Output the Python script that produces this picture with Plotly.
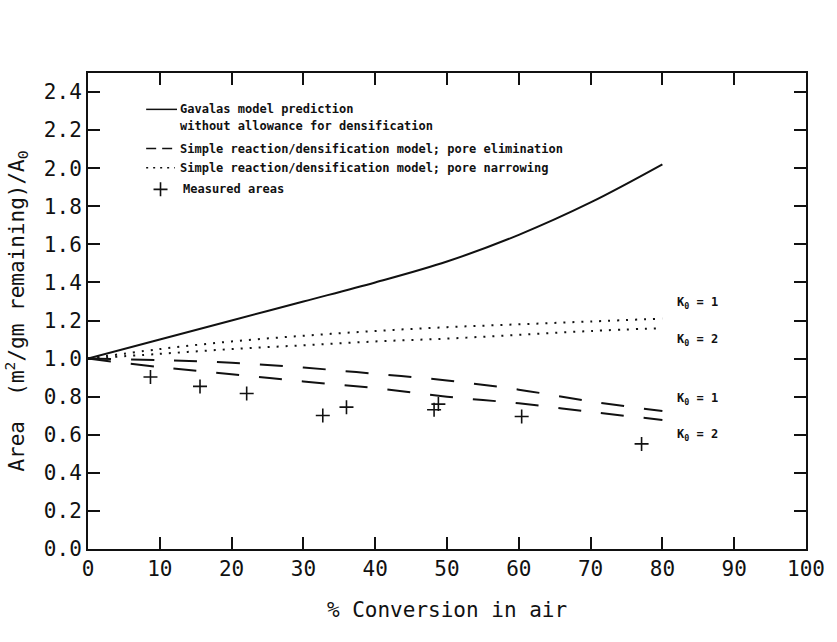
import plotly.graph_objects as go

# ---- data ----
conv = [0, 10, 20, 30, 40, 50, 60, 70, 80]
gavalas = [1.00, 1.10, 1.20, 1.30, 1.40, 1.51, 1.65, 1.82, 2.02]
narrow_k1 = [1.00, 1.05, 1.09, 1.12, 1.145, 1.165, 1.18, 1.195, 1.21]
narrow_k2 = [1.00, 1.025, 1.05, 1.07, 1.09, 1.105, 1.125, 1.145, 1.16]
elim_k1 = [1.00, 0.992, 0.978, 0.953, 0.92, 0.885, 0.837, 0.775, 0.725]
elim_k2 = [1.00, 0.955, 0.918, 0.88, 0.845, 0.80, 0.765, 0.72, 0.678]

meas_x = [8.7, 15.6, 22.1, 32.7, 36.0, 48.2, 48.8, 60.4, 77.1]
meas_y = [0.903, 0.854, 0.817, 0.701, 0.745, 0.731, 0.761, 0.696, 0.552]

x_ticks = [0, 10, 20, 30, 40, 50, 60, 70, 80, 90, 100]
y_ticks = [0.0, 0.2, 0.4, 0.6, 0.8, 1.0, 1.2, 1.4, 1.6, 1.8, 2.0, 2.2, 2.4]

legend_labels = [
    "Gavalas model prediction",
    "without allowance for densification",
    "Simple reaction/densification model; pore elimination",
    "Simple reaction/densification model; pore narrowing",
    "Measured areas",
]
k_labels = ["K<sub>0</sub> = 1", "K<sub>0</sub> = 2", "K<sub>0</sub> = 1", "K<sub>0</sub> = 2"]
k_label_y = [1.29, 1.10, 0.79, 0.60]

BLACK = "#111111"
MONO = "DejaVu Sans Mono"

fig = go.Figure()
fig.add_trace(go.Scatter(x=conv, y=gavalas, mode="lines",
                         line=dict(color=BLACK, width=2, shape="spline")))
for ys in (narrow_k1, narrow_k2):
    fig.add_trace(go.Scatter(x=conv, y=ys, mode="lines",
                             line=dict(color=BLACK, width=2, dash="2px,7px", shape="spline")))
for ys in (elim_k1, elim_k2):
    fig.add_trace(go.Scatter(x=conv, y=ys, mode="lines",
                             line=dict(color=BLACK, width=2, dash="23px,20px", shape="spline")))
fig.add_trace(go.Scatter(x=meas_x, y=meas_y, mode="markers",
                         marker=dict(symbol="cross-thin", size=10,
                                     line=dict(color=BLACK, width=1.6))))

# ---- legend (drawn as in the original figure) ----
leg_x0, leg_x1, leg_tx = 8.1, 12.4, 12.5
fig.add_shape(type="line", x0=leg_x0, x1=leg_x1, y0=2.309, y1=2.309,
              line=dict(color=BLACK, width=1.5))
fig.add_shape(type="line", x0=leg_x0, x1=leg_x1, y0=2.103, y1=2.103,
              line=dict(color=BLACK, width=1.5, dash="10px,6px"))
fig.add_shape(type="line", x0=leg_x0, x1=leg_x1 - 0.3, y0=2.003, y1=2.003,
              line=dict(color=BLACK, width=1.5, dash="2px,5px"))
fig.add_trace(go.Scatter(x=[10.1], y=[1.889], mode="markers",
                         marker=dict(symbol="cross-thin", size=10,
                                     line=dict(color=BLACK, width=1.6))))
for lab, yy in zip(legend_labels, [2.309, 2.222, 2.103, 2.003, 1.889]):
    fig.add_annotation(x=leg_tx if lab != "Measured areas" else 13.0, y=yy,
                       text="<b>" + lab + "</b>", showarrow=False,
                       xanchor="left", yanchor="middle",
                       font=dict(family=MONO, size=12, color=BLACK))
for lab, yy in zip(k_labels, k_label_y):
    fig.add_annotation(x=81.8, y=yy, text="<b>" + lab + "</b>", showarrow=False,
                       xanchor="left", yanchor="middle",
                       font=dict(family=MONO, size=12, color=BLACK))

axis_common = dict(showline=True, linecolor=BLACK, linewidth=2, mirror="ticks",
                   ticks="inside", ticklen=12, tickwidth=2, tickcolor=BLACK,
                   showgrid=False, zeroline=False,
                   tickfont=dict(family=MONO, size=21, color=BLACK))

fig.update_layout(
    width=837, height=642,
    margin=dict(l=88, r=24, t=73, b=93),
    paper_bgcolor="white", plot_bgcolor="white",
    showlegend=False,
    xaxis=dict(range=[0, 100], tickvals=x_ticks, ticktext=[str(v) for v in x_ticks],
               title=dict(text="% Conversion in air", standoff=22,
                          font=dict(family=MONO, size=21, color=BLACK)),
               **axis_common),
    yaxis=dict(range=[0, 2.5], tickvals=y_ticks, ticktext=[f"{v:.1f}" for v in y_ticks],
               title=dict(text="Area  (m<sup>2</sup>/gm remaining)/A<sub>0</sub>", standoff=14,
                          font=dict(family=MONO, size=21, color=BLACK)),
               **axis_common),
)

fig.write_html("out.html")
